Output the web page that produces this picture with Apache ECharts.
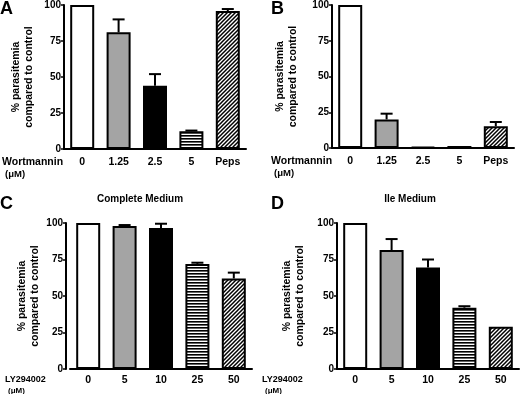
<!DOCTYPE html>
<html>
<head>
<meta charset="utf-8">
<script src="https://cdn.jsdelivr.net/npm/echarts@6/dist/echarts.min.js"></script>
<style>
  html, body { margin: 0; padding: 0; background: #fff; }
  #main { width: 520px; height: 394px; }
</style>
</head>
<body>
<div id="main"></div>
<script>
// ==================== 数据 ====================
var catsWort = ['0', '1.25', '2.5', '5', 'Peps'];
var catsLY = ['0', '5', '10', '25', '50'];
var yTicks = [0, 25, 50, 75, 100];

// A - Wortmannin
var valsA = [100, 81, 44, 12.4, 95.8];
var errA = [0, 9, 8, 0.4, 1.4];
// B - Wortmannin
var valsB = [100, 20, 0.8, 1.4, 15.2];
var errB = [0, 4, 0, 0, 3];
// C - LY294002, Complete Medium
var valsC = [100, 98, 96.5, 72, 62];
var errC = [0, 0.6, 3, 0.8, 4];
// D - LY294002, Ile Medium
var valsD = [100, 81.5, 69.5, 42, 29];
var errD = [0, 7.5, 5.5, 1, 0];

var FONT = 'Liberation Sans';

/*==================== 填充图案 ====================*/
function stripes() { // 横线
    var c = document.createElement('canvas');
    c.width = 6; c.height = 3;
    var ctx = c.getContext('2d');
    ctx.fillStyle = '#fff';
    ctx.fillRect(0, 0, 6, 3);
    ctx.fillStyle = '#000';
    ctx.fillRect(0, 0, 6, 1.6);
    return c;
}
function hatch() { // 斜线 /
    var c = document.createElement('canvas');
    c.width = 4; c.height = 4;
    var ctx = c.getContext('2d');
    ctx.fillStyle = '#fff';
    ctx.fillRect(0, 0, 4, 4);
    ctx.strokeStyle = '#000';
    ctx.lineWidth = 1.5;
    ctx.beginPath();
    ctx.moveTo(-1, 5); ctx.lineTo(5, -1);
    ctx.moveTo(-1, 1); ctx.lineTo(1, -1);
    ctx.moveTo(3, 5); ctx.lineTo(5, 3);
    ctx.stroke();
    return c;
}
var fills = [
    '#ffffff',
    '#a4a4a4',
    '#000000',
    { image: stripes(), repeat: 'repeat' },
    { image: hatch(), repeat: 'repeat' }
];

/*==================== 面板布局 ====================*/
var panels = [
    { cats: catsWort, vals: valsA, err: errA, grid: { left: 64, top: 4, width: 182, height: 145 }, yOffset: 0, nameGap: 28, labelMargin: 8 },
    { cats: catsWort, vals: valsB, err: errB, grid: { left: 332, top: 3, width: 182, height: 145 }, yOffset: 0, nameGap: 32, labelMargin: 8 },
    { cats: catsLY, vals: valsC, err: errC, grid: { left: 70, top: 223, width: 182, height: 146 }, yOffset: 4, nameGap: 24, labelMargin: 6 },
    { cats: catsLY, vals: valsD, err: errD, grid: { left: 337, top: 223, width: 182, height: 146 }, yOffset: 0, nameGap: 30, labelMargin: 6 }
];

var grids = [], xAxes = [], yAxes = [], series = [];

panels.forEach(function (p, i) {
    grids.push(p.grid);
    xAxes.push({
        type: 'category',
        gridIndex: i,
        data: p.cats,
        axisLine: { lineStyle: { color: '#000', width: 2 } },
        axisTick: { show: false },
        axisLabel: { color: '#000', fontFamily: FONT, fontWeight: 'bold', fontSize: 10.5, margin: p.labelMargin }
    });
    yAxes.push({
        type: 'value',
        gridIndex: i,
        min: yTicks[0],
        max: yTicks[yTicks.length - 1],
        interval: 25,
        offset: p.yOffset,
        splitLine: { show: false },
        axisLine: { show: true, lineStyle: { color: '#000', width: 2 } },
        axisTick: { show: true, length: 3, lineStyle: { color: '#000', width: 1.5 } },
        axisLabel: { color: '#000', fontFamily: FONT, fontWeight: 'bold', fontSize: 10, margin: 3 },
        name: '% parasitemia\ncompared to control',
        nameLocation: 'middle',
        nameGap: p.nameGap,
        nameTextStyle: { color: '#000', fontFamily: FONT, fontWeight: 'bold', fontSize: 10.5, lineHeight: 13 }
    });
    // 柱
    series.push({
        type: 'bar',
        xAxisIndex: i,
        yAxisIndex: i,
        barWidth: 24,
        data: p.vals.map(function (v, k) {
            return { value: v, itemStyle: { color: fills[k] } };
        }),
        itemStyle: { borderColor: '#000', borderWidth: 2 },
        z: 3
    });
    // 误差线 (只画上半)
    series.push({
        type: 'custom',
        xAxisIndex: i,
        yAxisIndex: i,
        data: p.vals.map(function (v, k) { return [k, v, p.err[k]]; }),
        renderItem: function (params, api) {
            var e = api.value(2);
            if (!e) return;
            var base = api.coord([api.value(0), api.value(1)]);
            var top = api.coord([api.value(0), api.value(1) + e]);
            var st = { stroke: '#000', lineWidth: 2 };
            return {
                type: 'group',
                children: [
                    { type: 'line', shape: { x1: base[0], y1: base[1], x2: top[0], y2: top[1] }, style: st },
                    { type: 'line', shape: { x1: top[0] - 6, y1: top[1], x2: top[0] + 6, y2: top[1] }, style: st }
                ]
            };
        },
        z: 3
    });
});

// 文字
function letter(t, x, y) {
    return { text: t, left: x, top: y, padding: 0, textStyle: { fontFamily: FONT, fontWeight: 'bold', fontSize: 18, color: '#000' } };
}
function xName(t, x, y, size) {
    return {
        text: '{b|' + t + '}\n{n|(\u03bcM)}', left: x, top: y, padding: 0,
        textStyle: {
            rich: {
                b: { fontFamily: FONT, fontWeight: 'bold', fontSize: size, color: '#000', lineHeight: size + 2 },
                n: { fontFamily: FONT, fontSize: size - 1, color: '#000', lineHeight: size + 2, padding: [0, 0, 0, 3] }
            }
        }
    };
}
function header(t, cx, y) {
    return { text: t, left: cx, top: y, padding: 0, textAlign: 'center', textStyle: { fontFamily: FONT, fontWeight: 'bold', fontSize: 10, color: '#000' } };
}

var titles = [
    letter('A', 0, 0),
    letter('B', 271, 0),
    letter('C', 0, 195),
    letter('D', 271, 195),
    header('Complete Medium', 140, 194),
    header('Ile Medium', 410, 194),
    xName('Wortmannin', 2, 156, 10.5),
    xName('Wortmannin', 271, 155, 10.5),
    xName('LY294002', 5, 374, 9),
    xName('LY294002', 262, 374, 9)
];

var chart = echarts.init(document.getElementById('main'), null, { renderer: 'canvas' });
chart.setOption({
    animation: false,
    backgroundColor: '#fff',
    title: titles,
    grid: grids,
    xAxis: xAxes,
    yAxis: yAxes,
    series: series
});
</script>
</body>
</html>
